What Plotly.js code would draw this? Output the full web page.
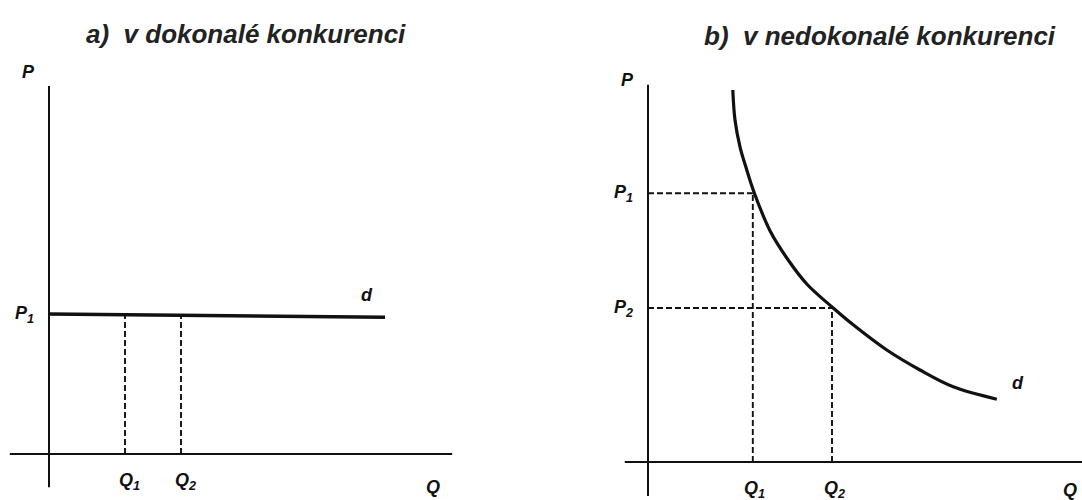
<!DOCTYPE html>
<html><head><meta charset="utf-8">
<script src="https://cdn.plot.ly/plotly-3.0.1.min.js"></script>
<style>html,body{margin:0;padding:0;background:#fff}</style>
</head><body><div id="chart" style="width:1082px;height:500px"></div>
<script>
// Panel a (perfect competition): horizontal demand at P1
const titleA = "a)  v dokonalé konkurenci";
const titleB = "b)  v nedokonalé konkurenci";
const aP1 = 3.5;
const aQ = [1.9, 3.3];            // Q1, Q2
const aDemandEndQ = 8.4;
const aAxisQ = [-0.98, 10.08];    // extent of Q axis
const aAxisP = [-0.83, 9.2];      // extent of P axis

// Panel b (imperfect competition): downward-sloping demand
const bCurveQ = [2.12, 2.175, 2.3, 2.47, 2.66, 3.05, 3.47, 3.97, 4.63, 5.13, 5.97, 6.8, 7.63, 8.72];
const bCurveP = [9.3, 8.55, 7.88, 7.3, 6.72, 5.78, 5.1, 4.45, 3.85, 3.43, 2.8, 2.3, 1.88, 1.57];
const bQ = [2.62, 4.6];           // Q1, Q2
const bP = [6.72, 3.85];          // P1, P2
const bAxisQ = [-0.58, 10.9];
const bAxisP = [-0.85, 9.43];

const tickNames = ["1", "2"];

const black = "#111";
const dash = "6px,3px";
const traces = [];
function line(xs, ys, ax, w, d, shape) {
  traces.push({x: xs, y: ys, xaxis: ax[0], yaxis: ax[1], mode: "lines",
    line: {color: black, width: w, dash: d || "solid", shape: shape || "linear", smoothing: 1},
    hoverinfo: "skip", showlegend: false});
}
const A = ["x", "y"], B = ["x2", "y2"];
// panel a axes
line(aAxisQ, [0, 0], A, 2);
line([0, 0], aAxisP, A, 2);
// panel a demand
line([0, aDemandEndQ], [aP1, aP1 - 0.08], A, 3.6);
aQ.forEach(q => line([q, q], [0, aP1], A, 1.9, dash));
// panel b axes
line(bAxisQ, [0, 0], B, 2);
line([0, 0], bAxisP, B, 2);
// panel b dashed
bQ.forEach((q, i) => {
  line([0, q], [bP[i], bP[i]], B, 1.9, dash);
  line([q, q], [0, bP[i]], B, 1.9, dash);
});
// panel b demand curve
line(bCurveQ, bCurveP, B, 3.2, null, "spline");

const lblFont = {family: "Liberation Sans, Arial, sans-serif", size: 18, color: black};
function lab(text, x, y, ax, extra) {
  return Object.assign({text: "<b><i>" + text + "</i></b>", x: x, y: y, xref: ax[0], yref: ax[1],
    showarrow: false, font: lblFont, xanchor: "center", yanchor: "middle"}, extra || {});
}
const ttlFont = {family: "Liberation Sans, Arial, sans-serif", size: 26, color: "#222"};
const ann = [];
ann.push({text: "<b><i>" + titleA + "</i></b>", xref: "paper", yref: "paper", x: 0.2274, y: 0.932,
  xanchor: "center", yanchor: "middle", showarrow: false, font: ttlFont});
ann.push({text: "<b><i>" + titleB + "</i></b>", xref: "paper", yref: "paper", x: 0.813, y: 0.928,
  xanchor: "center", yanchor: "middle", showarrow: false, font: ttlFont});
// panel a labels
ann.push(lab("P", 0, 9.55, A, {xshift: -21}));
ann.push(lab("P<sub>1</sub>", 0, aP1, A, {xshift: -25}));
aQ.forEach((q, i) => ann.push(lab("Q<sub>" + tickNames[i] + "</sub>", q, 0, A, {yshift: -27, xshift: 4})));
ann.push(lab("Q", 9.6, 0, A, {yshift: -33}));
ann.push(lab("d", 7.95, aP1, A, {yshift: 19}));
// panel b labels
ann.push(lab("P", 0, 9.55, B, {xshift: -21}));
bP.forEach((p, i) => ann.push(lab("P<sub>" + tickNames[i] + "</sub>", 0, p, B, {xshift: -25})));
bQ.forEach((q, i) => ann.push(lab("Q<sub>" + tickNames[i] + "</sub>", q, 0, B, {yshift: -27, xshift: 2})));
ann.push(lab("Q", 10.55, 0, B, {yshift: -28}));
ann.push(lab("d", 9.25, 1.57, B, {yshift: 16}));

const hid = {visible: false, fixedrange: true};
const layout = {
  width: 1082, height: 500, margin: {l: 0, r: 0, t: 0, b: 0},
  paper_bgcolor: "#fff", plot_bgcolor: "#fff", showlegend: false,
  xaxis: Object.assign({domain: [0, 0.5], range: [-1.225, 12.3]}, hid),
  yaxis: Object.assign({domain: [0, 1], range: [-1.15, 11.35]}, hid),
  xaxis2: Object.assign({domain: [0.5, 1], range: [-2.675, 10.85]}, hid),
  yaxis2: Object.assign({domain: [0, 1], range: [-0.95, 11.55]}, hid),
  annotations: ann
};
Plotly.newPlot("chart", traces, layout, {staticPlot: true});
</script></body></html>
